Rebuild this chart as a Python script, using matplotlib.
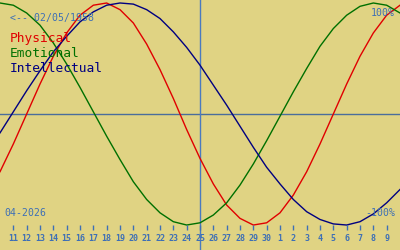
#!/usr/bin/env python

# biorhythm chart, april/may 2026
import matplotlib
matplotlib.use("Agg")
import matplotlib.pyplot as plt

# day positions on the x axis (10 = 10 April, 31 = 1 May ...)
days = list(range(10, 41))

# values in percent, one per day
physical = [-52, -27, 0, 27, 52, 73, 89, 98, 100, 94, 82, 63, 40, 14, -14, -40,
            -63, -82, -94, -100, -98, -89, -73, -52, -27, 0, 27, 52, 73, 89, 98]
emotional = [100, 98, 91, 80, 64, 45, 24, 2, -20, -41, -61, -77, -89, -97, -100, -98,
             -91, -80, -64, -45, -24, -2, 20, 41, 61, 77, 89, 97, 100, 98, 91]
intellectual = [-17, 2, 21, 39, 56, 70, 83, 92, 98, 100, 99, 94, 86, 74, 60, 44,
                26, 8, -11, -30, -48, -63, -77, -88, -95, -99, -100, -97, -90, -80, -68]

# tick days and their labels
tick_days = list(range(11, 40))
tick_labels = [str(d) for d in range(11, 31)] + [str(d) for d in range(1, 10)]
today = 25

bg = "#e0d383"
blue_txt = "#3d6fb6"

fig = plt.figure(figsize=(4, 2.5), dpi=100)
fig.patch.set_facecolor(bg)
ax = fig.add_axes([0, 0, 1, 1])
ax.set_facecolor(bg)
ax.set_xlim(10, 40)
ax.set_ylim(-122.5, 102.7)
ax.axis("off")

# cross lines
ax.axhline(0, color="#4a6d9c", lw=1)
ax.axvline(today, color="#4a7ac0", lw=1)

ax.plot(days, physical, color="#e00000", lw=1)
ax.plot(days, emotional, color="#007000", lw=1)
ax.plot(days, intellectual, color="#000080", lw=1)

# day ticks along the bottom
ax.vlines(tick_days, -100, -104.5, color=blue_txt, lw=1)
for d, lab in zip(tick_days, tick_labels):
    ax.text(d, -114.4, lab, color=blue_txt, fontsize=6, ha="center",
            va="baseline", family="DejaVu Sans Mono", fontweight="bold")

mono = "DejaVu Sans Mono"
tr = ax.transAxes
ax.text(10 / 400, 1 - 20.5 / 250, "<-- 02/05/1958", color=blue_txt, fontsize=7.1,
        family=mono, va="baseline", transform=tr)
ax.text(10 / 400, 1 - 42 / 250, "Physical", color="#e00000", fontsize=9.3,
        family=mono, va="baseline", transform=tr)
ax.text(10 / 400, 1 - 57 / 250, "Emotional", color="#007000", fontsize=9.3,
        family=mono, va="baseline", transform=tr)
ax.text(10 / 400, 1 - 72 / 250, "Intellectual", color="#000080", fontsize=9.3,
        family=mono, va="baseline", transform=tr)
ax.text(4 / 400, 1 - 215.5 / 250, "04-2026", color=blue_txt, fontsize=7.1,
        family=mono, va="baseline", transform=tr)
ax.text(395 / 400, 1 - 16 / 250, "100%", color=blue_txt, fontsize=7.1,
        family=mono, va="baseline", ha="right", transform=tr)
ax.text(395 / 400, 1 - 216 / 250, "-100%", color=blue_txt, fontsize=7.1,
        family=mono, va="baseline", ha="right", transform=tr)

fig.savefig("out.png", dpi=100, facecolor=bg)
